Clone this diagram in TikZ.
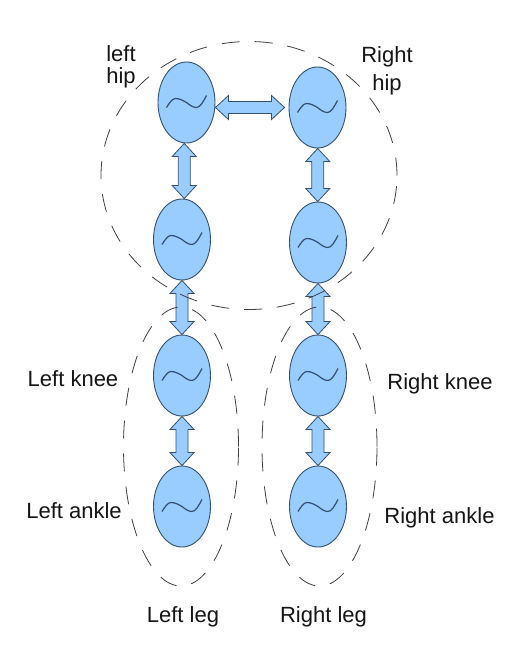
\documentclass[tikz,border=0pt]{standalone}
\usepackage{fontspec}
\setmainfont{Liberation Sans}
\usetikzlibrary{calc,shapes.geometric}
\definecolor{jointfill}{HTML}{99CCFF}
\definecolor{jointline}{HTML}{34506C}
\definecolor{dashgray}{HTML}{404040}
\definecolor{labelink}{HTML}{151515}
\newcommand\dblarrow[2]{%
  \coordinate (da1) at ($(#1)!13pt!(#2)$);
  \coordinate (da2) at ($(#2)!13pt!(#1)$);
  \path[arrowbody] (#1) -- ($(da1)!12pt!90:(#2)$) -- ($(da1)!6pt!90:(#2)$)
    -- ($(da2)!6pt!-90:(#1)$) -- ($(da2)!12pt!-90:(#1)$) -- (#2)
    -- ($(da2)!12pt!90:(#1)$) -- ($(da2)!6pt!90:(#1)$)
    -- ($(da1)!6pt!-90:(#2)$) -- ($(da1)!12pt!-90:(#2)$) -- cycle;}
\newcommand\vdbl[2]{%
  \coordinate (vm) at ($(#1.south)!0.5!(#2.north)$);
  \coordinate (va) at (vm |- #1.south);
  \coordinate (vb) at (vm |- #2.north);
  \dblarrow{va}{vb}}
\begin{document}
\begin{tikzpicture}[x=1pt,y=-1pt,
  joint/.style={ellipse, draw=jointline, fill=jointfill, line width=0.9pt,
    minimum width=57pt, minimum height=81pt, inner sep=0pt,
    path picture={\draw[jointline, line width=1.2pt]
      ($(path picture bounding box.center)+(-20pt,-5pt)$) sin ++(9pt,9pt)
      cos ++(11pt,-4pt) sin ++(10pt,-5pt) cos ++(10pt,12pt);}},
  arrowbody/.style={draw=jointline, fill=jointfill, line width=0.8pt, line join=miter},
  group/.style={ellipse, draw=dashgray, line width=0.8pt, dash pattern=on 18pt off 15pt, inner sep=0pt},
  lbl/.style={font=\fontsize{22}{22}\selectfont, inner sep=0pt, text=labelink}]
\useasboundingbox (0,0) rectangle (522,656);
\fill[white] (0,0) rectangle (522,656);
% joints
\node[joint] (L1) at (186.5,102.5) {};
\node[joint] (R1) at (317.5,107.5) {};
\node[joint] (L2) at (182,239.5) {};
\node[joint] (R2) at (318,242.5) {};
\node[joint] (L3) at (182,375.5) {};
\node[joint] (R3) at (318,375.5) {};
\node[joint] (L4) at (182,506.5) {};
\node[joint] (R4) at (318,506.5) {};
% connectors
\coordinate (h1) at (L1.east |- R1.west);
\coordinate (h2) at ($(R1.west)+(-4,0)$);
\dblarrow{h1}{h2}
\vdbl{L1}{L2}
\vdbl{L2}{L3}
\vdbl{L3}{L4}
\vdbl{R1}{R2}
\vdbl{R2}{R3}
\vdbl{R3}{R4}
% groups
\node[group, minimum width=296pt, minimum height=268pt] (hips) at (249,175.5) {};
\node[group, minimum width=115pt, minimum height=279pt] (lleg) at (181,446.5) {};
\node[group, minimum width=115pt, minimum height=279pt] (rleg) at (319.5,446.5) {};
% labels
\node[lbl, align=center, anchor=north] (lhiplbl) at (121,45.5) {left\\hip};
\node[lbl, align=center, anchor=north] (rhiplbl) at (387,46.5) {Right\\[5.5pt]hip};
\node[lbl, anchor=base] (lkneelbl) at (73,386) {Left knee};
\node[lbl, anchor=base] (lanklelbl) at (74,518) {Left ankle};
\node[lbl, anchor=base] (rkneelbl) at (440,389) {Right knee};
\node[lbl, anchor=base] (ranklelbl) at (439.5,523) {Right ankle};
\node[lbl, anchor=base] (lleglbl) at (183,622) {Left leg};
\node[lbl, anchor=base] (rleglbl) at (323.5,622) {Right leg};
\end{tikzpicture}
\end{document}
